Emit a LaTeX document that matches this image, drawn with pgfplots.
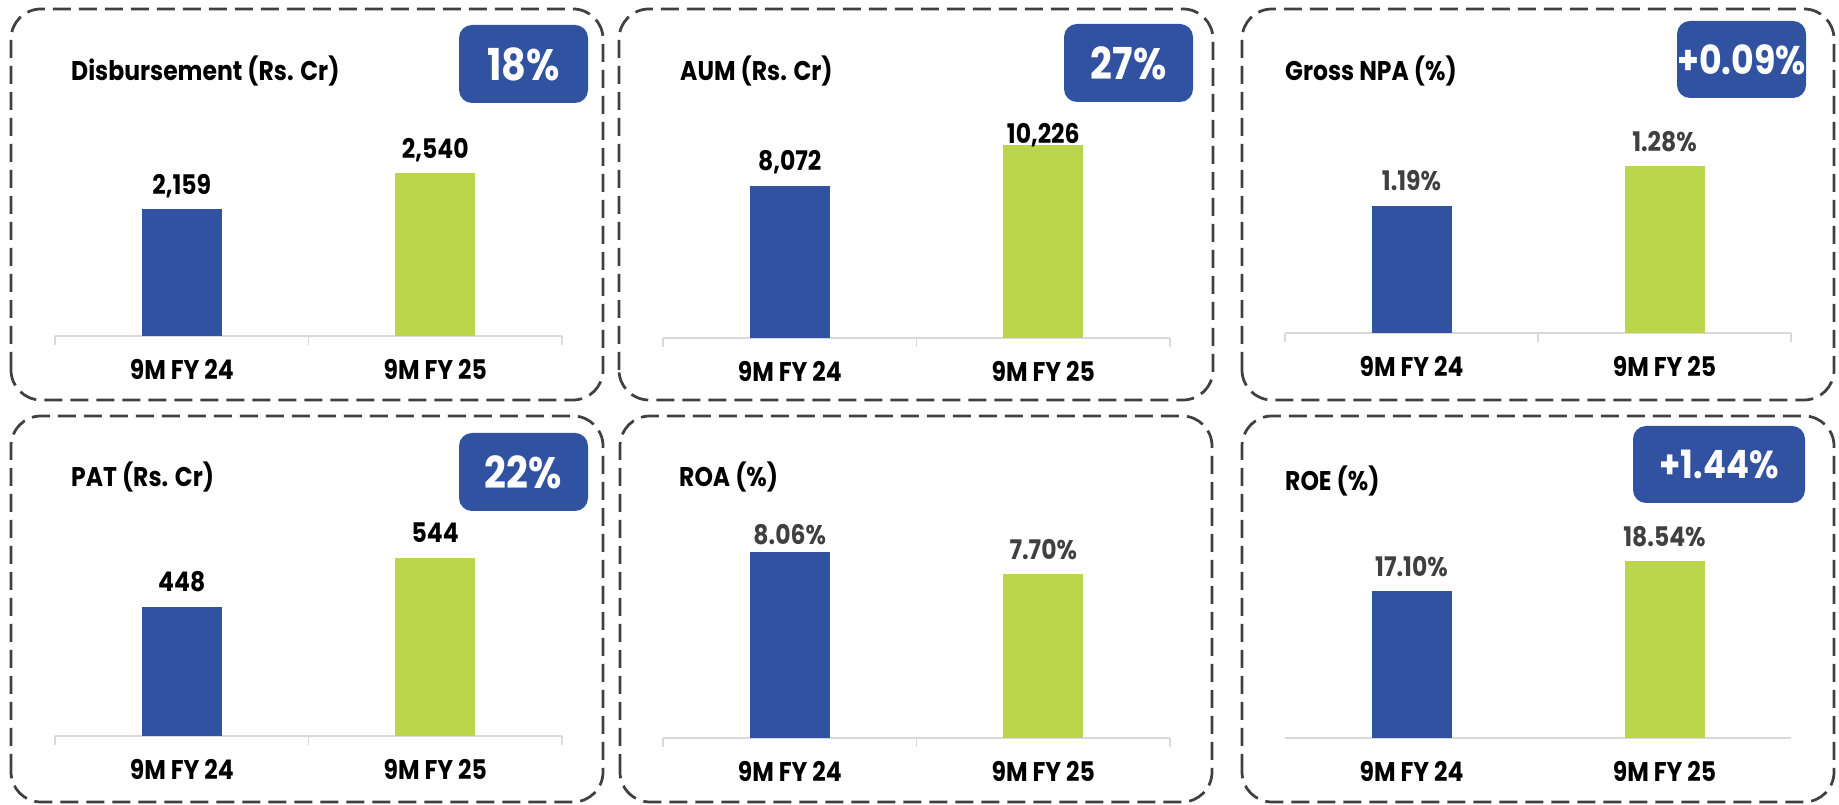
\documentclass[border=0pt]{standalone}
\usepackage{fontspec}
\setmainfont{Poppins}[FakeStretch=0.87]
\usepackage{pgfplots}
\pgfplotsset{compat=1.18}
\definecolor{barblue}{RGB}{49,82,160}
\definecolor{bargreen}{RGB}{187,214,74}
\definecolor{axgray}{RGB}{217,217,217}
\definecolor{boxgray}{RGB}{64,64,64}
\definecolor{valgray}{RGB}{64,64,64}
\newcommand\lblfont{\fontsize{27}{32}\selectfont\bfseries}
\newcommand\badgefont{\fontsize{44}{52}\selectfont\bfseries}
\pgfplotsset{
  panel/.style={
    scale only axis, width=507pt, height=250pt, anchor=south west,
    xmin=-0.5, xmax=1.5,
    axis y line=none, axis x line*=bottom,
    x axis line style={draw=axgray, line width=1.5pt, -},
    xtick={0,1}, xticklabels={9M FY 24,9M FY 25},
    major tick length=0pt,
    xticklabel style={font=\lblfont, text=black, anchor=base, yshift=-44pt},
    extra x ticks={-0.5,0.5,1.5}, extra x tick labels={},
    extra x tick style={major tick length=9pt, tick align=outside,
      tick style={draw=axgray, line width=1.5pt}},
    ybar, bar width=80pt, bar shift=0pt,
    nodes near coords, point meta=explicit symbolic,
    every node near coord/.append style={font=\lblfont, anchor=base, yshift=15pt, inner sep=0pt},
  },
  b1/.style={draw=none, fill=barblue},
  b2/.style={draw=none, fill=bargreen},
}
\begin{document}
\begin{tikzpicture}[x=1pt,y=1pt]
\useasboundingbox (0,0) rectangle (1839,805);
% boxes
\begin{scope}[draw=boxgray, line width=2.75pt, dash pattern=on 18pt off 8pt, rounded corners=30pt]
\draw (11,405) rectangle (603,796);
\draw (619,405) rectangle (1213,796);
\draw (1242,405) rectangle (1834,796);
\draw (11,3) rectangle (603,389);
\draw (620,3) rectangle (1212,389);
\draw (1242,3) rectangle (1834,389);
\end{scope}
% titles
\begin{scope}[every node/.style={anchor=base west, font=\lblfont, text=black, inner sep=0pt}]
\node at (71,724) {Disbursement (Rs. Cr)};
\node at (680,724) {AUM (Rs. Cr)};
\node at (1285,724) {Gross NPA (\%)};
\node at (71,318) {PAT (Rs. Cr)};
\node at (679,318) {ROA (\%)};
\node at (1285,314) {ROE (\%)};
\end{scope}
% badges
\begin{scope}[rounded corners=13pt]
\fill[barblue] (459,702) rectangle (588,780);
\fill[barblue] (1064,703) rectangle (1193,781);
\fill[barblue] (1677,707) rectangle (1806,784);
\fill[barblue] (459,294) rectangle (588,372);
\fill[barblue] (1633,302) rectangle (1805,379);
\end{scope}
\node[text=white, font=\badgefont] at (523.5,741) {18\%};
\node[text=white, font=\badgefont] at (1128.5,742) {27\%};
\node[text=white, font=\fontsize{40}{48}\selectfont\bfseries] at (1741.5,745.5) {+0.09\%};
\node[text=white, font=\badgefont] at (523.5,333) {22\%};
\node[text=white, font=\fontsize{39}{46}\selectfont\bfseries] at (1719,340.5) {+1.44\%};
% P1 Disbursement
\begin{axis}[panel, at={(55pt,469pt)}, ymin=815, ymax=3461]
\addplot[b1, every node near coord/.append style={text=black}] coordinates {(0,2159) [2,159]};
\addplot[b2, every node near coord/.append style={text=black}] coordinates {(1,2540) [2,540]};
\end{axis}
% P2 AUM
\begin{axis}[panel, at={(663pt,467pt)}, ymin=0, ymax=13277]
\addplot[b1, every node near coord/.append style={text=black}] coordinates {(0,8072) [8,072]};
\addplot[b2, every node near coord/.append style={text=black, yshift=-13pt}] coordinates {(1,10226) [10,226]};
\end{axis}
% P3 Gross NPA
\begin{axis}[panel, width=506pt, at={(1285pt,472pt)}, ymin=0.904, ymax=1.467]
\addplot[b1, every node near coord/.append style={text=valgray}] coordinates {(0,1.19) [1.19\%]};
\addplot[b2, every node near coord/.append style={text=valgray}] coordinates {(1,1.28) [1.28\%]};
\end{axis}
% P4 PAT
\begin{axis}[panel, at={(55pt,69pt)}, ymin=195, ymax=685]
\addplot[b1, every node near coord/.append style={text=black}] coordinates {(0,448) [448]};
\addplot[b2, every node near coord/.append style={text=black}] coordinates {(1,544) [544]};
\end{axis}
% P5 ROA
\begin{axis}[panel, at={(663pt,67pt)}, ymin=5.02, ymax=9.11]
\addplot[b1, every node near coord/.append style={text=valgray, yshift=-7pt}] coordinates {(0,8.06) [8.06\%]};
\addplot[b2, every node near coord/.append style={text=valgray}] coordinates {(1,7.70) [7.70\%]};
\end{axis}
% P6 ROE
\begin{axis}[panel, width=506pt, at={(1285pt,67pt)}, ymin=10.04, ymax=22.06,
  extra x tick style={major tick length=0pt}]
\addplot[b1, every node near coord/.append style={text=valgray}] coordinates {(0,17.10) [17.10\%]};
\addplot[b2, every node near coord/.append style={text=valgray}] coordinates {(1,18.54) [18.54\%]};
\end{axis}
\end{tikzpicture}
\end{document}
